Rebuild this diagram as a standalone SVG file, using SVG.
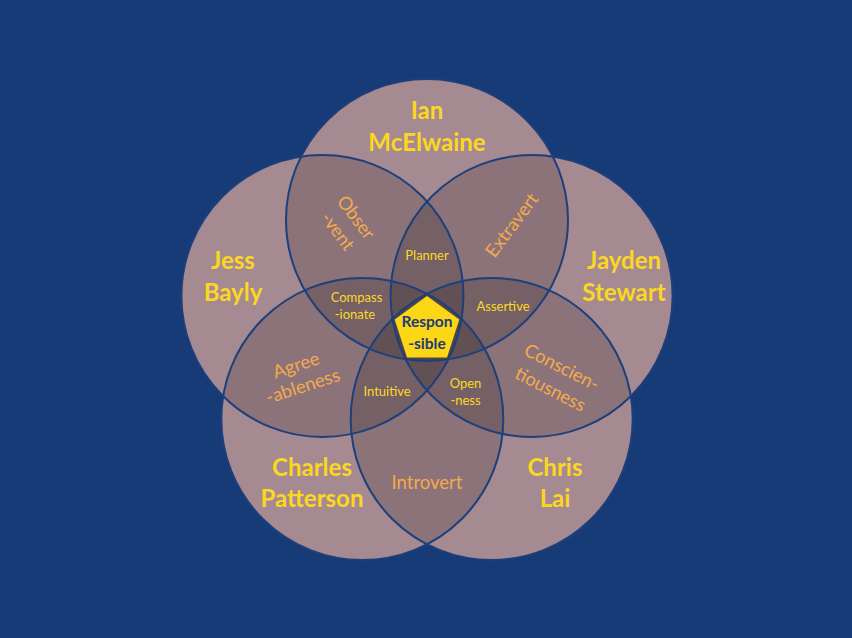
<svg xmlns="http://www.w3.org/2000/svg" width="852" height="638" viewBox="0 0 852 638">
<style>
.base{fill:#c6a5ad}
.shade{fill:#000;fill-opacity:0.16}
.ring{fill:none;stroke:#1d3f7c;stroke-width:2}
.name{font-family:Lato,"Open Sans",sans-serif;font-weight:bold;font-size:24px;fill:#fcd722;text-anchor:middle}
.trait{font-family:Lato,"Open Sans",sans-serif;font-size:18.5px;fill:#f4aa4e;text-anchor:middle}
.small{font-family:Lato,"Open Sans",sans-serif;font-size:13px;fill:#fcd826;text-anchor:middle}
.core{font-family:Lato,"Open Sans",sans-serif;font-weight:bold;font-size:15.5px;fill:#1b3b78;text-anchor:middle}
</style>
<defs>
<circle id="cT" cx="427" cy="220" r="141"/>
<circle id="cR" cx="531.6" cy="296" r="141"/>
<circle id="cBR" cx="491.7" cy="419" r="141"/>
<circle id="cBL" cx="362.3" cy="419" r="141"/>
<circle id="cL" cx="322.4" cy="296" r="141"/>
</defs>
<rect width="852" height="638" fill="#163b76"/>
<g id="fills">
<use href="#cT" class="base"/><use href="#cR" class="base"/><use href="#cBR" class="base"/><use href="#cBL" class="base"/><use href="#cL" class="base"/>
</g>
<g id="shading">
<use href="#cT" class="shade"/><use href="#cR" class="shade"/><use href="#cBR" class="shade"/><use href="#cBL" class="shade"/><use href="#cL" class="shade"/>
</g>
<g id="connectors"></g>
<g id="node-ian">
<use href="#cT" class="ring"/>
<text class="name" x="427" y="119">Ian</text>
<text class="name" x="427" y="151">McElwaine</text>
</g>
<g id="node-jayden">
<use href="#cR" class="ring"/>
<text class="name" x="624" y="269">Jayden</text>
<text class="name" x="624" y="300.5">Stewart</text>
</g>
<g id="node-chris">
<use href="#cBR" class="ring"/>
<text class="name" x="555" y="476">Chris</text>
<text class="name" x="555" y="507">Lai</text>
</g>
<g id="node-charles">
<use href="#cBL" class="ring"/>
<text class="name" x="312" y="476">Charles</text>
<text class="name" x="312" y="507">Patterson</text>
</g>
<g id="node-jess">
<use href="#cL" class="ring"/>
<text class="name" x="233" y="269">Jess</text>
<text class="name" x="233" y="300.5">Bayly</text>
</g>
<g id="traits">
<g transform="translate(347 224.2) rotate(53)">
<text class="trait" x="0" y="-5">Obser</text>
<text class="trait" x="0" y="18">-vent</text>
</g>
<g transform="translate(511.7 225) rotate(-53)">
<text class="trait" x="0" y="6.5">Extravert</text>
</g>
<g transform="translate(299.4 375.5) rotate(-18)">
<text class="trait" x="0" y="-4.5">Agree</text>
<text class="trait" x="0" y="17.5">-ableness</text>
</g>
<g transform="translate(556.2 378) rotate(27)">
<text class="trait" x="0" y="-6">Conscien-</text>
<text class="trait" x="0" y="19">tiousness</text>
</g>
<text class="trait" x="427" y="489">Introvert</text>
</g>
<g id="overlaps">
<text class="small" x="427" y="259.5">Planner</text>
<text class="small" x="356.5" y="302">Compass</text>
<text class="small" x="355" y="318.5">-ionate</text>
<text class="small" x="503" y="311">Assertive</text>
<text class="small" x="387" y="395.5">Intuitive</text>
<text class="small" x="465.5" y="387.5">Open</text>
<text class="small" x="465.5" y="404.5">-ness</text>
</g>
<g id="node-responsible">
<polygon points="427,296 459.3,319.5 447,357.5 407,357.5 394.7,319.5" fill="#fcd716"/>
<text class="core" x="427" y="327">Respon</text>
<text class="core" x="427" y="348.5">-sible</text>
</g>
</svg>
